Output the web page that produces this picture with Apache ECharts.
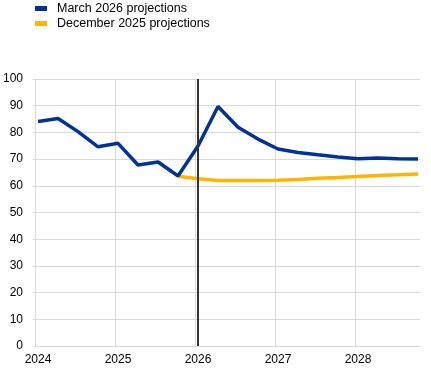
<!DOCTYPE html>
<html>
<head>
<meta charset="utf-8">
<script src="https://cdn.jsdelivr.net/npm/echarts@6/dist/echarts.min.js"></script>
<style>html,body{margin:0;padding:0;background:#fff}#c{width:431px;height:373px}</style>
</head>
<body>
<div id="c"></div>
<script>
// Quarters 2024Q1 .. 2028Q4
const quarters = ["2024Q1","2024Q2","2024Q3","2024Q4","2025Q1","2025Q2","2025Q3","2025Q4",
  "2026Q1","2026Q2","2026Q3","2026Q4","2027Q1","2027Q2","2027Q3","2027Q4",
  "2028Q1","2028Q2","2028Q3","2028Q4"];
const march2026 = [84.1, 85.2, 80.3, 74.6, 75.9, 67.8, 68.9, 63.7,
  74.9, 89.7, 81.9, 77.5, 73.8, 72.5, 71.6, 70.8,
  70.1, 70.4, 70.1, 70.0];
const dec2025 = [null, null, null, null, null, null, 68.9, 63.6,
  62.6, 62.0, 62.0, 62.0, 62.1, 62.4, 62.8, 63.1,
  63.5, 63.9, 64.1, 64.4];
const yearTicks = [2024, 2025, 2026, 2027, 2028];
const projectionStart = "2026Q1";

// position of a quarter on the time line (start of quarter + half a month)
function qx(q) {
  const y = +q.slice(0, 4), n = +q.slice(5);
  return y + (n - 1) / 4 + 0.0375;
}
const pairs = arr => quarters.map((q, i) => [qx(q), arr[i]]).filter(p => p[1] != null);

const chart = echarts.init(document.getElementById('c'), null, {renderer: 'canvas'});
const font = 'Liberation Sans, Arial, sans-serif';
chart.setOption({
  animation: false,
  textStyle: {fontFamily: font},
  legend: {
    orient: 'vertical', left: 35, top: 2, padding: 0, itemGap: 2,
    itemWidth: 12, itemHeight: 5, icon: 'rect',
    textStyle: {fontSize: 12.5, color: '#000', fontFamily: font, padding: [0, 0, 0, 5]},
    data: ['March 2026 projections', 'December 2025 projections']
  },
  grid: {left: 35, right: 11, top: 79, bottom: 27, containLabel: false},
  xAxis: {
    type: 'value', min: yearTicks[0], max: 2028.8125, interval: 1,
    axisLine: {show: true, lineStyle: {color: '#d9d9d9', width: 1}},
    axisTick: {show: false},
    splitLine: {show: true, showMaxLine: false, lineStyle: {color: '#d9d9d9', width: 1}},
    axisLabel: {
      showMaxLabel: false, color: '#000', fontSize: 12, margin: 8,
      padding: [0, 0, 0, 6], fontFamily: font,
      formatter: v => yearTicks.includes(Math.round(v)) && Math.abs(v - Math.round(v)) < 1e-6 ? String(Math.round(v)) : ''
    }
  },
  yAxis: {
    type: 'value', min: 0, max: 100, interval: 10,
    axisLine: {show: false},
    axisTick: {show: true, length: 2, lineStyle: {color: '#d9d9d9'}},
    splitLine: {show: true, lineStyle: {color: '#d9d9d9', width: 1}},
    axisLabel: {color: '#000', fontSize: 12, margin: 12, fontFamily: font}
  },
  series: [
    {
      name: 'March 2026 projections', type: 'line', data: pairs(march2026),
      showSymbol: false, symbol: 'none', z: 3,
      lineStyle: {color: '#003299', width: 3.5}, itemStyle: {color: '#003299'},
      markLine: {
        silent: true, symbol: 'none', label: {show: false},
        lineStyle: {color: '#333333', width: 2, type: 'solid'},
        data: [{xAxis: qx(projectionStart)}]
      }
    },
    {
      name: 'December 2025 projections', type: 'line', data: pairs(dec2025),
      showSymbol: false, symbol: 'none', z: 2,
      lineStyle: {color: '#ffb400', width: 3.5}, itemStyle: {color: '#ffb400'}
    }
  ]
});
</script>
</body>
</html>
